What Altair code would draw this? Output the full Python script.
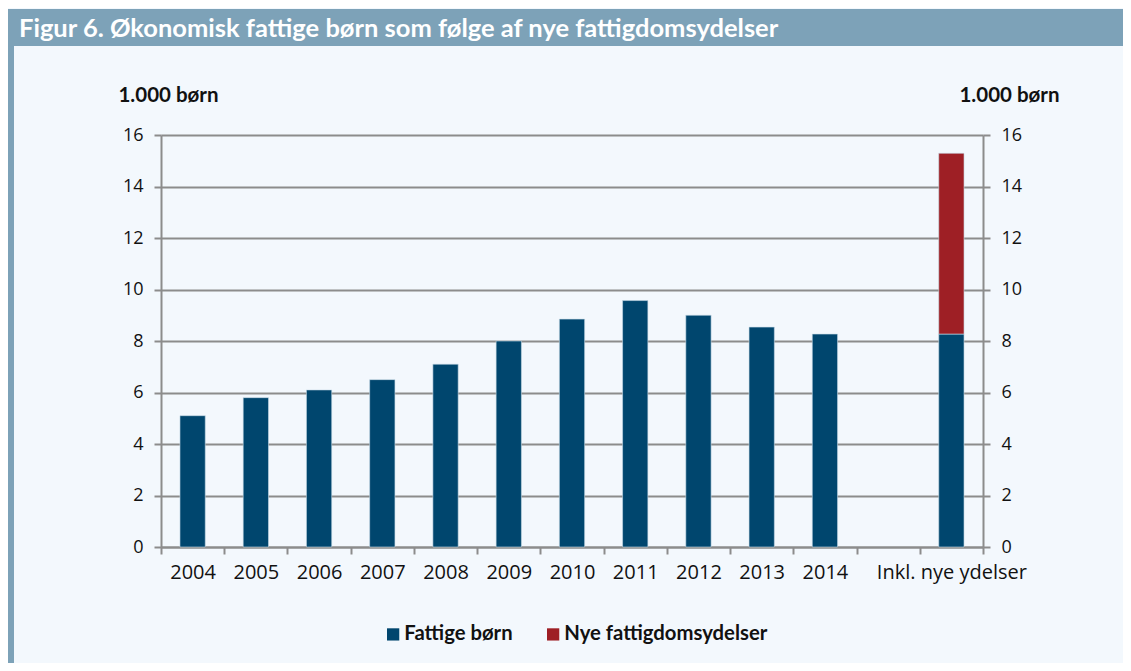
import altair as alt
import pandas as pd

categories = ["2004", "2005", "2006", "2007", "2008", "2009", "2010", "2011",
              "2012", "2013", "2014", " ", "Inkl. nye ydelser"]
bar_categories = ["2004", "2005", "2006", "2007", "2008", "2009", "2010", "2011",
                  "2012", "2013", "2014", "Inkl. nye ydelser"]
fattige = [5.1, 5.8, 6.1, 6.5, 7.1, 8.0, 8.85, 9.57, 9.0, 8.54, 8.27, 8.27]
nye = [0, 0, 0, 0, 0, 0, 0, 0, 0, 0, 0, 7.02]
series = ["Fattige børn", "Nye fattigdomsydelser"]
title_text = "Figur 6. Økonomisk fattige børn som følge af nye fattigdomsydelser"
axis_title = "1.000 børn"

rows = []
for c, f, n in zip(bar_categories, fattige, nye):
    rows.append({"kategori": c, "serie": series[0], "værdi": f, "orden": 0})
    if n > 0:
        rows.append({"kategori": c, "serie": series[1], "værdi": n, "orden": 1})
df = pd.DataFrame(rows)

BLUE = "#00466e"
RED = "#9e1f25"
HEADER = "#7da2b8"
BG = "#f3f8fd"
GRID = "#8c8c8c"

W, H = 822, 412
PL, PT = 153, 127
TOTAL_W, TOTAL_H = 1115, 655

x_enc = alt.X("kategori:N", sort=categories,
              scale=alt.Scale(domain=categories, paddingInner=0, paddingOuter=0),
              axis=alt.Axis(title=None, labelAngle=0, labelFont="Open Sans", labelFontSize=20,
                            labelColor="#111111", labelPadding=8, tickBand="extent",
                            tickColor=GRID, tickSize=7, tickWidth=2, domainColor=GRID,
                            domainWidth=2, grid=False))

y_scale = alt.Scale(domain=[0, 16], nice=False)


def y_axis(orient, title_x, grid):
    return alt.Axis(title=axis_title, values=list(range(0, 17, 2)), orient=orient,
                    titleAngle=0, titleAlign="center", titleBaseline="middle",
                    titleX=title_x, titleY=-40, titleFont="Lato", titleFontSize=20.5,
                    titleFontWeight="bold", titleColor="#111111",
                    labelFont="Open Sans", labelFontSize=18, labelColor="#111111",
                    labelPadding=11, tickColor=GRID, tickSize=7, tickWidth=2,
                    domainColor=GRID, domainWidth=2, grid=grid, gridColor=GRID,
                    gridWidth=2)


bars = alt.Chart(df).mark_bar(stroke="#c9dbe8", strokeWidth=0.6,
                              width=alt.RelativeBandSize(0.4)).encode(
    x=x_enc,
    y=alt.Y("sum(værdi):Q", stack="zero", scale=y_scale, axis=y_axis("left", 7, True)),
    color=alt.Color("serie:N", scale=alt.Scale(domain=series, range=[BLUE, RED]),
                    legend=alt.Legend(title=None, orient="none", direction="horizontal",
                                      legendX=222, legendY=489, symbolType="square",
                                      symbolSize=150, symbolStrokeWidth=0, labelFont="Lato",
                                      labelFontSize=20.3, labelFontWeight="bold",
                                      labelColor="#111111", labelOffset=1, columnPadding=30,
                                      labelLimit=0)),
    order=alt.Order("orden:Q"),
)

right_axis = alt.Chart(df).mark_bar(opacity=0, width=alt.RelativeBandSize(0.4)).encode(
    x=x_enc,
    y=alt.Y("sum(værdi):Q", stack="zero", scale=y_scale, axis=y_axis("right", 26, False)),
)

one = pd.DataFrame({"t": [title_text]})
header = alt.Chart(one).mark_rect(color=HEADER).encode(
    x=alt.value(-PL), x2=alt.value(TOTAL_W - PL), y=alt.value(-126), y2=alt.value(-89)
)
border = alt.Chart(one).mark_rect(color=HEADER).encode(
    x=alt.value(-PL), x2=alt.value(-PL + 6), y=alt.value(-89), y2=alt.value(TOTAL_H - PT)
)
header_text = alt.Chart(one).mark_text(
    font="Lato", fontSize=25.5, fontWeight="bold", color="white", align="left",
    baseline="alphabetic"
).encode(x=alt.value(-142), y=alt.value(-98), text="t:N")

chart = alt.layer(header, border, header_text, bars, right_axis).resolve_axis(
    y="independent"
).resolve_scale(y="shared").properties(
    width=W, height=H,
    autosize=alt.AutoSizeParams(type="none"),
    padding={"left": PL, "top": PT, "right": TOTAL_W - PL - W, "bottom": TOTAL_H - PT - H},
    background=BG,
).configure_view(stroke=None)

chart.save("out.html", embed_options={"renderer": "svg", "actions": False})
